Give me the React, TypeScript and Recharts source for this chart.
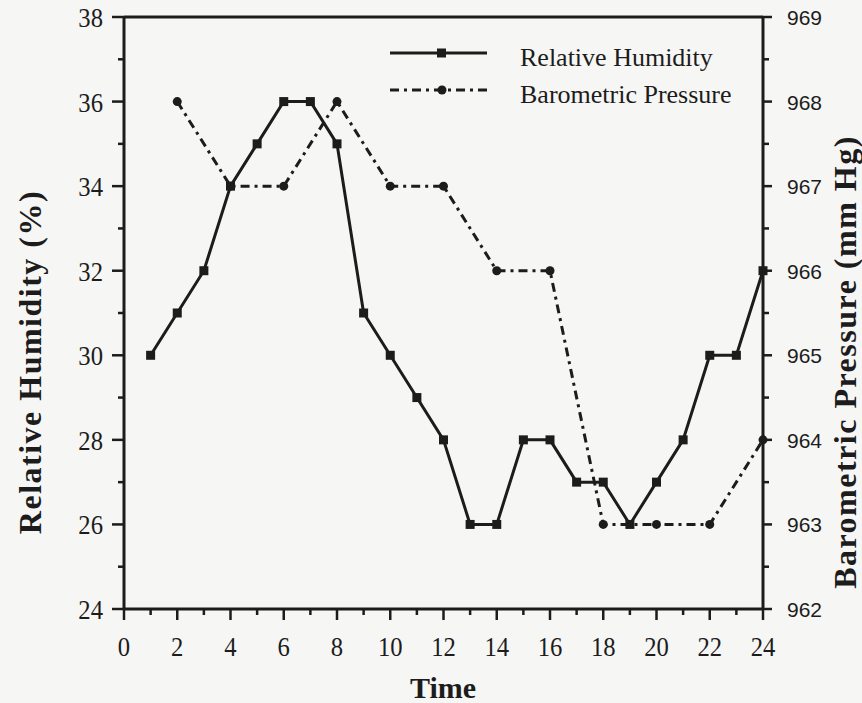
import { LineChart, Line, XAxis, YAxis, ReferenceLine, Label } from "recharts"

const times = [1, 2, 3, 4, 5, 6, 7, 8, 9, 10, 11, 12, 13, 14, 15, 16, 17, 18, 19, 20, 21, 22, 23, 24]
const humidity = [30, 31, 32, 34, 35, 36, 36, 35, 31, 30, 29, 28, 26, 26, 28, 28, 27, 27, 26, 27, 28, 30, 30, 32]
// pressure was only logged every second hour
const pressure = [null, 968, null, 967, null, 967, null, 968, null, 967, null, 967, null, 966, null, 966, null, 963, null, 963, null, 963, null, 964]

const xTicks = [0, 1, 2, 3, 4, 5, 6, 7, 8, 9, 10, 11, 12, 13, 14, 15, 16, 17, 18, 19, 20, 21, 22, 23, 24]
const humTicks = [24, 25, 26, 27, 28, 29, 30, 31, 32, 33, 34, 35, 36, 37, 38]
const presTicks = [962, 962.5, 963, 963.5, 964, 964.5, 965, 965.5, 966, 966.5, 967, 967.5, 968, 968.5, 969]

const INK = "#1c1c1c"
const SERIF = '"Liberation Serif", "Times New Roman", serif'
const SANS = '"Liberation Sans", Arial, sans-serif'

const chartData = times.map((t, i) => ({ time: t, humidity: humidity[i], pressure: pressure[i] }))

function XTick({ x, y, payload }: any) {
  const major = payload.value % 2 === 0
  return (
    <g>
      <line x1={x} x2={x} y1={y} y2={y + (major ? 11 : 6)} stroke={INK} strokeWidth={2.5} />
      {major && (
        <text transform={`translate(${x},${y + 47}) scale(0.88,1)`} textAnchor="middle" fontFamily={SERIF} fontSize={28} fill={INK}>
          {payload.value}
        </text>
      )}
    </g>
  )
}

function HumTick({ x, y, payload }: any) {
  const major = payload.value % 2 === 0
  return (
    <g>
      <line x1={x} x2={x - (major ? 12 : 6)} y1={y} y2={y} stroke={INK} strokeWidth={2.5} />
      {major && (
        <text transform={`translate(${x - 21},${y + 10}) scale(0.88,1)`} textAnchor="end" fontFamily={SERIF} fontSize={28} fill={INK}>
          {payload.value}
        </text>
      )}
    </g>
  )
}

function PresTick({ x, y, payload }: any) {
  const major = Number.isInteger(payload.value)
  return (
    <g>
      <line x1={x} x2={x + (major ? 9 : 6)} y1={y} y2={y} stroke={INK} strokeWidth={2.5} />
      {major && (
        <text x={x + 24} y={y + 8} textAnchor="start" fontFamily={SANS} fontSize={21} fill={INK}>
          {payload.value}
        </text>
      )}
    </g>
  )
}

const SquareDot = (props: any) => {
  const { cx, cy, index } = props
  if (cx == null || cy == null) return <g key={`sq-${index}`} />
  return <rect key={`sq-${index}`} x={cx - 4.5} y={cy - 4.5} width={9} height={9} fill={INK} />
}

const RoundDot = (props: any) => {
  const { cx, cy, index, value } = props
  if (cx == null || cy == null || value == null) return <g key={`rd-${index}`} />
  return <circle key={`rd-${index}`} cx={cx} cy={cy} r={4.5} fill={INK} />
}

function ChartLegend() {
  return (
    <svg width={480} height={90} style={{ position: "absolute", left: 380, top: 30 }}>
      <line x1={10} x2={107} y1={23} y2={23} stroke={INK} strokeWidth={3} />
      <rect x={57} y={18.5} width={9} height={9} fill={INK} />
      <text x={140} y={36} fontFamily={SERIF} fontSize={26} fill={INK}>Relative Humidity</text>
      <line x1={10} x2={107} y1={60} y2={60} stroke={INK} strokeWidth={3} strokeDasharray="9 5 3 5" />
      <circle cx={62} cy={60} r={4.5} fill={INK} />
      <text x={140} y={73} fontFamily={SERIF} fontSize={26} fill={INK}>Barometric Pressure</text>
    </svg>
  )
}

export default function App() {
  return (
    <div style={{ position: "absolute", left: 0, top: 0, width: 862, height: 703, background: "#f6f6f5" }}>
      <LineChart width={862} height={703} data={chartData} margin={{ top: 17, right: 0, bottom: 0, left: 0 }}>
        <XAxis
          dataKey="time"
          type="number"
          domain={[0, 24]}
          ticks={xTicks}
          interval={0}
          height={94}
          stroke={INK}
          strokeWidth={3}
          tickSize={0}
          tickMargin={0}
          tickLine={false}
          tick={<XTick />}
        >
          <Label
            content={() => (
              <text x={443} y={698} textAnchor="middle" fontFamily={SERIF} fontWeight="bold" fontSize={30} fill={INK}>
                Time
              </text>
            )}
          />
        </XAxis>
        <YAxis
          yAxisId="left"
          domain={[24, 38]}
          ticks={humTicks}
          interval={0}
          width={124}
          stroke={INK}
          strokeWidth={3}
          tickSize={0}
          tickMargin={0}
          tickLine={false}
          tick={<HumTick />}
        >
          <Label
            content={() => (
              <text
                transform="translate(30,362) rotate(-90)"
                textAnchor="middle"
                dominantBaseline="central"
                fontFamily={SERIF}
                fontWeight="bold"
                fontSize={32}
                letterSpacing={1.5}
                fill={INK}
              >
                Relative Humidity (%)
              </text>
            )}
          />
        </YAxis>
        <YAxis
          yAxisId="right"
          orientation="right"
          domain={[962, 969]}
          ticks={presTicks}
          interval={0}
          width={99}
          stroke={INK}
          strokeWidth={3}
          tickSize={0}
          tickMargin={0}
          tickLine={false}
          tick={<PresTick />}
        >
          <Label
            content={() => (
              <text
                transform="translate(845,362) rotate(-90)"
                textAnchor="middle"
                dominantBaseline="central"
                fontFamily={SERIF}
                fontWeight="bold"
                fontSize={32}
                letterSpacing={1.5}
                fill={INK}
              >
                Barometric Pressure (mm Hg)
              </text>
            )}
          />
        </YAxis>
        <ReferenceLine yAxisId="left" y={38} stroke={INK} strokeWidth={3} />
        <Line
          yAxisId="left"
          dataKey="humidity"
          stroke={INK}
          strokeWidth={3}
          dot={SquareDot}
          isAnimationActive={false}
        />
        <Line
          yAxisId="right"
          dataKey="pressure"
          stroke={INK}
          strokeWidth={3}
          strokeDasharray="9 5 3 5"
          connectNulls
          dot={RoundDot}
          isAnimationActive={false}
        />
      </LineChart>
      <ChartLegend />
    </div>
  )
}
